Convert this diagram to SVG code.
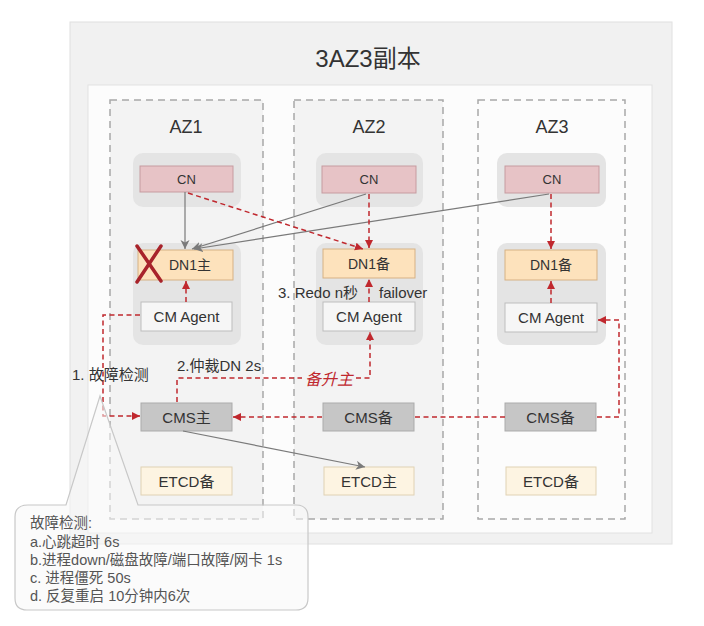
<svg xmlns="http://www.w3.org/2000/svg" width="704" height="626" viewBox="0 0 704 626">
<defs>
<style>
text{font-family:"Liberation Sans","Noto Sans CJK SC",sans-serif;fill:#333;text-anchor:middle;dominant-baseline:central}
.az{stroke:#a8a8a8;stroke-width:1.5;stroke-dasharray:7,5}
.grp{fill:#e4e4e4}
.cn{fill:#e7c3c6;stroke:#c69ba0;stroke-width:1}
.dn{fill:#fde2bc;stroke:#d6b184;stroke-width:1}
.agent{fill:#f6f6f6;stroke:#bdbdbd;stroke-width:1}
.cms{fill:#c6c6c6;stroke:#ababab;stroke-width:1}
.etcd{fill:#fdf4e2;stroke:#e0d2b4;stroke-width:1}
.red{fill:none;stroke:#c0282e;stroke-width:1.5;stroke-dasharray:5,3.5;marker-end:url(#ra)}
.gray{fill:none;stroke:#7a7a7a;stroke-width:1.2;marker-end:url(#ga)}
.lbl{font-size:15px;text-anchor:start}
</style>
<marker id="ra" markerUnits="userSpaceOnUse" markerWidth="9" markerHeight="9" refX="8" refY="4" orient="auto"><path d="M0,0 L8,4 L0,8 z" fill="#c0282e"/></marker>
<marker id="ga" markerUnits="userSpaceOnUse" markerWidth="10" markerHeight="10" refX="9" refY="4.5" orient="auto"><path d="M0,0 L9,4.5 L0,9 L2.5,4.5 z" fill="#7a7a7a"/></marker>
</defs>

<rect x="0" y="0" width="704" height="626" fill="#ffffff"/>
<g id="panel">
<rect x="70" y="22" width="602" height="522" fill="#f1f1f1" stroke="#e0e0e0"/>
<text x="368" y="58" style="font-size:24px">3AZ3副本</text>
<rect x="88" y="85" width="564" height="448" fill="#fcfcfc" stroke="#e2e2e2"/>
</g>

<g id="az1"><rect class="az" x="110" y="100" width="153" height="419" fill="#f3f3f3"/><text x="186" y="127" style="font-size:18px">AZ1</text></g>
<g id="az2"><rect class="az" x="294" y="100" width="149" height="419" fill="#f3f3f3"/><text x="369" y="127" style="font-size:18px">AZ2</text></g>
<g id="az3"><rect class="az" x="478" y="100" width="147" height="419" fill="#fcfcfc"/><text x="552" y="127" style="font-size:18px">AZ3</text></g>

<g id="containers">
<rect class="grp" x="133" y="153" width="108" height="54" rx="10"/>
<rect class="grp" x="316" y="153" width="107" height="54" rx="10"/>
<rect class="grp" x="497" y="153" width="109" height="54" rx="10"/>
<rect class="grp" x="133" y="243" width="108" height="102" rx="10"/>
<rect class="grp" x="316" y="243" width="107" height="102" rx="10"/>
<rect class="grp" x="497" y="243" width="109" height="102" rx="10"/>
</g>

<g id="az1-cn"><rect class="cn" x="140" y="166" width="93" height="26"/><text x="186.5" y="179" style="font-size:13px">CN</text></g>
<g id="az2-cn"><rect class="cn" x="322" y="166" width="94" height="27"/><text x="369" y="179.5" style="font-size:13px">CN</text></g>
<g id="az3-cn"><rect class="cn" x="505" y="166" width="94" height="27"/><text x="552" y="179.5" style="font-size:13px">CN</text></g>

<g id="az1-dn"><rect class="dn" x="138" y="250" width="95" height="30"/><text x="190" y="265" style="font-size:14px">DN1主</text></g>
<g id="az2-dn"><rect class="dn" x="323" y="249" width="92" height="29"/><text x="369" y="263.5" style="font-size:14px">DN1备</text></g>
<g id="az3-dn"><rect class="dn" x="505" y="250" width="92" height="30"/><text x="551" y="265" style="font-size:14px">DN1备</text></g>

<g id="az1-agent"><rect class="agent" x="141" y="302" width="91" height="29"/><text x="186.5" y="316.5" style="font-size:15px">CM Agent</text></g>
<g id="az2-agent"><rect class="agent" x="323" y="302" width="92" height="29"/><text x="369" y="316.5" style="font-size:15px">CM Agent</text></g>
<g id="az3-agent"><rect class="agent" x="505" y="303" width="92" height="29"/><text x="551" y="317.5" style="font-size:15px">CM Agent</text></g>

<g id="az1-cms"><rect class="cms" x="141" y="403" width="91" height="28"/><text x="186.5" y="417" style="font-size:15px">CMS主</text></g>
<g id="az2-cms"><rect class="cms" x="323" y="403" width="91" height="28"/><text x="368.5" y="417" style="font-size:15px">CMS备</text></g>
<g id="az3-cms"><rect class="cms" x="505" y="403" width="91" height="28"/><text x="550.5" y="417" style="font-size:15px">CMS备</text></g>

<g id="az1-etcd"><rect class="etcd" x="141" y="467" width="91" height="28"/><text x="186.5" y="481" style="font-size:15px">ETCD备</text></g>
<g id="az2-etcd"><rect class="etcd" x="324" y="467" width="90" height="28"/><text x="369" y="481" style="font-size:15px">ETCD主</text></g>
<g id="az3-etcd"><rect class="etcd" x="506" y="467" width="90" height="28"/><text x="551" y="481" style="font-size:15px">ETCD备</text></g>

<g id="connectors">
<path class="gray" d="M185,192 V249"/>
<path class="gray" d="M366,194 L192,249"/>
<path class="gray" d="M549,194 L194,249"/>
<path class="gray" d="M183,431 L365,467"/>
<path class="red" d="M188,193 L363,249"/>
<path class="red" d="M369,194 V248"/>
<path class="red" d="M551,194 V249"/>
<path class="red" d="M186,302 V281"/>
<path class="red" d="M369,302 V279"/>
<path class="red" d="M551,303 V281"/>
<path class="red" d="M140,315 H103 V416 H140"/>
<path class="red" d="M505,417 H415 M322,417 H233"/>
<path class="red" d="M597,417 H619 V320 H598"/>
<path class="red" d="M177,402 V378 H302 M356,378 H370 V332"/>
</g>

<g id="labels">
<text class="lbl" x="72" y="374">1. 故障检测</text>
<text class="lbl" x="177" y="365">2.仲裁DN 2s</text>
<text class="lbl" x="278" y="292">3. Redo n秒</text>
<text class="lbl" x="379" y="292">failover</text>
<text x="329" y="379" style="font-size:16px;font-style:italic;fill:#c0282e">备升主</text>
</g>

<g id="fail-mark" stroke="#a8232a" stroke-width="3.5" stroke-linecap="round">
<line x1="137" y1="246" x2="161" y2="281"/>
<line x1="161" y1="246" x2="137" y2="282"/>
</g>

<g id="callout">
<path d="M28,505 H66 L100,396 L138,505 H296 Q308,505 308,517 V598 Q308,610 296,610 H27 Q15,610 15,598 V517 Q15,505 28,505 Z" fill="#f8f8f8" fill-opacity="0.55" stroke="#c8c8c8" stroke-width="1.2"/>
<text class="lbl" x="30" y="523" style="font-size:14.5px;fill:#555">故障检测:</text>
<text class="lbl" x="30" y="542" style="font-size:14.5px;fill:#555">a.心跳超时 6s</text>
<text class="lbl" x="30" y="560" style="font-size:14.5px;fill:#555">b.进程down/磁盘故障/端口故障/网卡 1s</text>
<text class="lbl" x="30" y="578" style="font-size:14.5px;fill:#555">c. 进程僵死 50s</text>
<text class="lbl" x="30" y="596" style="font-size:14.5px;fill:#555">d. 反复重启 10分钟内6次</text>
</g>
</svg>
